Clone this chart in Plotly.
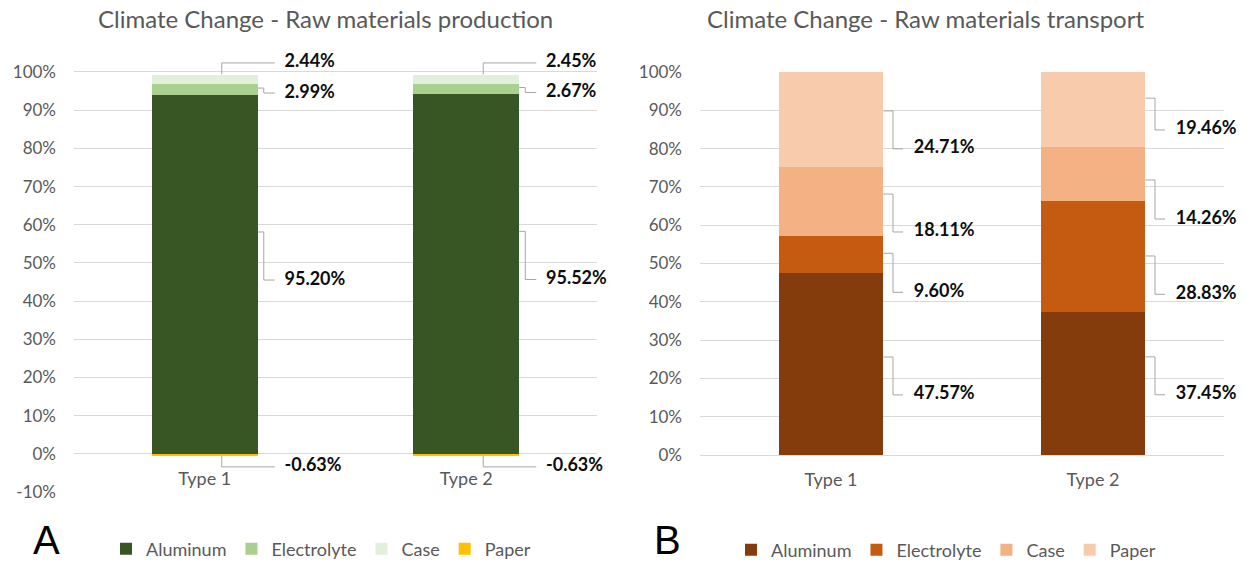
import plotly.graph_objects as go

# ---- data -------------------------------------------------------------
types = ["Type 1", "Type 2"]
parts = ["Aluminum", "Electrolyte", "Case", "Paper"]

# Climate change contribution of raw materials production (%)
prod_aluminum = [95.20, 95.52]
prod_electrolyte = [2.99, 2.67]
prod_case = [2.44, 2.45]
prod_paper = [-0.63, -0.63]

# Climate change contribution of raw materials transport (%)
trans_aluminum = [47.57, 37.45]
trans_electrolyte = [9.60, 28.83]
trans_case = [18.11, 14.26]
trans_paper = [24.71, 19.46]

prod_ticks = list(range(-10, 101, 10))
trans_ticks = list(range(0, 101, 10))

# ---- styles -----------------------------------------------------------
prod_colors = ["#375623", "#A9D08E", "#E2EFDA", "#FFC000"]
trans_colors = ["#843C0C", "#C55A11", "#F4B183", "#F8CBAD"]
GRID = "#D9D9D9"
AXIS_TEXT = "#595959"
LEADER = "#A6A6A6"
FONT = "Lato"

W, H = 1254, 564


def px_x(p):
    return p / W


def px_y(p):
    return (H - p) / H


# Leader-line layout per label: (kind, start offset from segment middle,
# vertical distance from start to the label), in axis percent units.
prod_leaders = {
    "Aluminum": [("side", 11.1, -12.6), ("side", 11.1, -12.6)],
    "Electrolyte": [("side", 0.3, -1.3), ("side", 0.3, -1.3)],
    "Case": [("top", 0.0, 3.0), ("top", 0.0, 3.0)],
    "Paper": [("bottom", 0.0, -2.8), ("bottom", 0.0, -2.8)],
}
trans_leaders = {
    "Aluminum": [("side", 1.8, -9.9), ("side", 6.9, -9.9)],
    "Electrolyte": [("side", 0.3, -10.2), ("side", 0.1, -10.0)],
    "Case": [("side", 1.9, -9.9), ("side", -1.6, -10.2)],
    "Paper": [("side", 2.2, -9.9), ("side", 2.9, -8.3)],
}

# horizontal geometry (in category units) of bars and leader lines
prod_geo = dict(half=0.2027, elbow=0.2257, end=0.2677, text=0.305, vert=0.065)
trans_geo = dict(half=0.2, elbow=0.2366, end=0.2748, text=0.316, vert=0.065)

# plot frames: pixel rows of the lowest / highest gridline, and value range
# (the range is padded a little so the outer labels stay inside the axes)
prod_frame = dict(lo_px=492, hi_px=72, lo=-10, hi=100, pad_lo=0, pad_hi=4)
trans_frame = dict(lo_px=455, hi_px=72, lo=0, hi=100, pad_lo=9, pad_hi=0)


def y_domain(f):
    per = (f["lo_px"] - f["hi_px"]) / (f["hi"] - f["lo"])
    bottom = f["lo_px"] + f["pad_lo"] * per
    top = f["hi_px"] - f["pad_hi"] * per
    return [px_y(bottom), px_y(top)], [f["lo"] - f["pad_lo"], f["hi"] + f["pad_hi"]]


def shares(series):
    """100 % stacked shares: each value over the sum of absolute values."""
    totals = [sum(abs(s[i]) for s in series) for i in range(len(types))]
    return [[100.0 * s[i] / totals[i] for i in range(len(types))] for s in series]


fig = go.Figure()


def add_panel(raw_series, colors, geo, leaders, xa, ya, legend):
    vals = shares(raw_series)
    xs = list(range(len(types)))
    for name, v, c in zip(parts, vals, colors):
        fig.add_trace(go.Bar(
            x=xs, y=v, name=name, width=2 * geo["half"],
            marker=dict(color=c, line=dict(width=0)),
            xaxis=xa, yaxis=ya, legend=legend, hoverinfo="skip",
        ))
    lab_x, lab_y, lab_t = [], [], []
    for i, cx in enumerate(xs):
        pos_base, neg_base = 0.0, 0.0
        for name, v, raw in zip(parts, vals, raw_series):
            val = v[i]
            if val >= 0:
                lo, hi = pos_base, pos_base + val
                pos_base = hi
            else:
                lo, hi = neg_base + val, neg_base
                neg_base = lo
            kind, off, drop = leaders[name][i]
            if kind == "side":
                y0 = (lo + hi) / 2 + off
                y1 = y0 + drop
                lx = [cx + geo["half"], cx + geo["elbow"], cx + geo["elbow"], cx + geo["end"]]
                ly = [y0, y0, y1, y1]
            else:
                y0 = hi if kind == "top" else lo
                y1 = y0 + drop
                lx = [cx + geo["vert"], cx + geo["vert"], cx + geo["end"]]
                ly = [y0, y1, y1]
            fig.add_trace(go.Scatter(
                x=lx, y=ly, mode="lines", line=dict(color=LEADER, width=1),
                xaxis=xa, yaxis=ya, showlegend=False, hoverinfo="skip",
                cliponaxis=False,
            ))
            lab_x.append(cx + geo["text"])
            lab_y.append(y1)
            lab_t.append(f"<b>{raw[i]:.2f}%</b>")
    # value labels
    fig.add_trace(go.Scatter(
        x=lab_x, y=lab_y, text=lab_t, mode="text", textposition="middle right",
        textfont=dict(family=FONT, size=18, color="#0D0D0D"),
        xaxis=xa, yaxis=ya, showlegend=False, hoverinfo="skip", cliponaxis=False,
    ))
    # category labels
    fig.add_trace(go.Scatter(
        x=xs, y=[-6.9] * len(xs), text=types, mode="text",
        textposition="middle center",
        textfont=dict(family=FONT, size=18, color=AXIS_TEXT),
        xaxis=xa, yaxis=ya, showlegend=False, hoverinfo="skip", cliponaxis=False,
    ))


add_panel([prod_aluminum, prod_electrolyte, prod_case, prod_paper],
          prod_colors, prod_geo, prod_leaders, "x", "y", "legend")
add_panel([trans_aluminum, trans_electrolyte, trans_case, trans_paper],
          trans_colors, trans_geo, trans_leaders, "x2", "y2", "legend2")

yaxis_common = dict(
    showgrid=True, gridcolor=GRID, gridwidth=1,
    zeroline=True, zerolinecolor=GRID, zerolinewidth=1,
    showline=False, ticks="", ticklabelstandoff=17,
    tickfont=dict(family=FONT, size=17, color=AXIS_TEXT), fixedrange=True,
)
xaxis_common = dict(range=[-0.5, 1.5], showgrid=False, zeroline=False,
                    showticklabels=False, showline=False, fixedrange=True)

legend_common = dict(
    orientation="h", yanchor="middle", xanchor="left",
    xref="container", yref="container",
    font=dict(family=FONT, size=18, color=AXIS_TEXT),
    bgcolor="rgba(0,0,0,0)", itemwidth=30, traceorder="normal",
    itemclick=False, itemdoubleclick=False,
)

prod_dom, prod_range = y_domain(prod_frame)
trans_dom, trans_range = y_domain(trans_frame)

fig.update_layout(
    width=W, height=H, margin=dict(l=0, r=0, t=0, b=0, autoexpand=False),
    paper_bgcolor="white", plot_bgcolor="white",
    barmode="relative", bargap=0,
    font=dict(family=FONT, color=AXIS_TEXT),
    showlegend=True,
    xaxis=dict(domain=[px_x(74), px_x(597)], anchor="y", **xaxis_common),
    yaxis=dict(domain=prod_dom, range=prod_range, anchor="x",
               tickvals=prod_ticks, ticktext=[f"{t}%" for t in prod_ticks],
               **yaxis_common),
    xaxis2=dict(domain=[px_x(700), px_x(1224)], anchor="y2", **xaxis_common),
    yaxis2=dict(domain=trans_dom, range=trans_range, anchor="x2",
                tickvals=trans_ticks, ticktext=[f"{t}%" for t in trans_ticks],
                **yaxis_common),
    legend=dict(x=px_x(106), y=px_y(549), **legend_common),
    legend2=dict(x=px_x(731), y=px_y(550), **legend_common),
)

# panel titles and panel letters
fig.add_annotation(x=px_x(325), y=px_y(19), xref="paper", yref="paper",
                   text="Climate Change - Raw materials production",
                   showarrow=False, xanchor="center", yanchor="middle",
                   font=dict(family=FONT, size=24, color=AXIS_TEXT))
fig.add_annotation(x=px_x(925), y=px_y(19), xref="paper", yref="paper",
                   text="Climate Change - Raw materials transport",
                   showarrow=False, xanchor="center", yanchor="middle",
                   font=dict(family=FONT, size=24, color=AXIS_TEXT))
fig.add_annotation(x=px_x(47), y=0, xref="paper", yref="paper",
                   text="A", showarrow=False, xanchor="center", yanchor="bottom",
                   font=dict(family="Liberation Sans", size=40, color="#000000"))
fig.add_annotation(x=px_x(667), y=0, xref="paper", yref="paper",
                   text="B", showarrow=False, xanchor="center", yanchor="bottom",
                   font=dict(family="Liberation Sans", size=40, color="#000000"))

fig.write_html("out.html")
